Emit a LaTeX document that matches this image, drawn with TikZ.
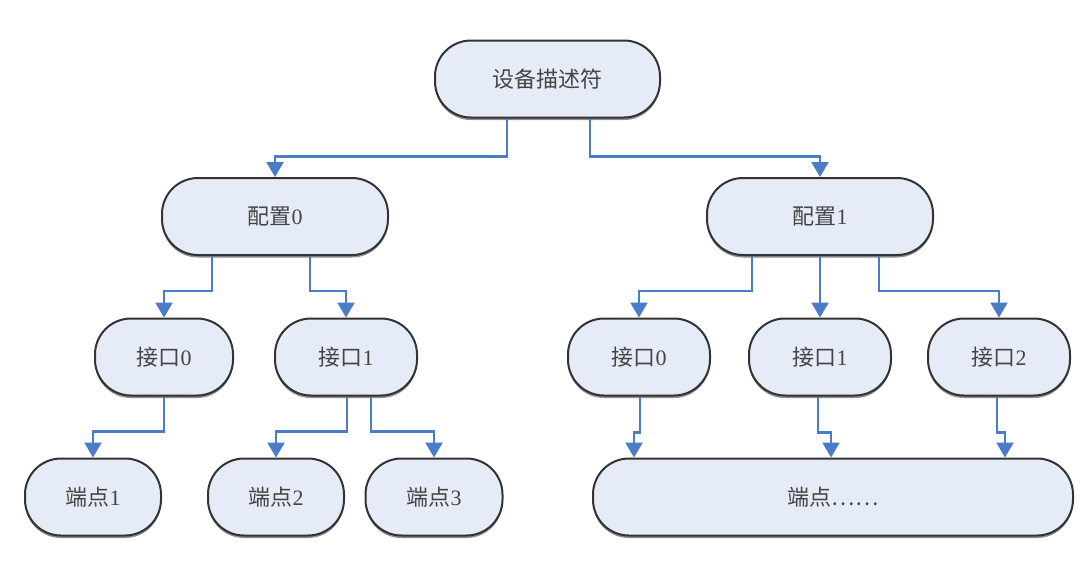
\documentclass[tikz,border=0pt]{standalone}
\usepackage{fontspec}
\setmainfont{Liberation Serif}
\newfontfamily\cjk{Noto Sans CJK SC}
\usetikzlibrary{arrows.meta,calc,shadows}
\definecolor{boxfill}{HTML}{E6ECF7}
\definecolor{boxline}{HTML}{333333}
\definecolor{conncol}{HTML}{4A7CC8}
\definecolor{txtcol}{HTML}{444444}
\tikzset{
  pill/.style={draw=boxline, line width=2pt, fill=boxfill, rounded corners=36pt,
    minimum height=77pt, inner sep=0pt, text=txtcol, font=\fontsize{22}{26}\selectfont,
    drop shadow={shadow xshift=0pt, shadow yshift=-2.5pt, opacity=0.45, fill=black}},
  conn/.style={draw=conncol, line width=2.4pt, -{Triangle[width=17pt,length=15pt]}},
}
\begin{document}
\begin{tikzpicture}[x=1pt,y=-1pt]
\useasboundingbox (0,0) rectangle (1090,563);
\fill[white] (0,0) rectangle (1090,563);
% nodes
\node[pill, minimum width=225pt] (dev) at (547.5,79) {\cjk 设备描述符};
\node[pill, minimum width=226pt] (c0) at (275,216.5) {{\cjk 配置}0};
\node[pill, minimum width=226pt] (c1) at (820,216.5) {{\cjk 配置}1};
\node[pill, minimum width=138pt] (i00) at (164,357) {{\cjk 接口}0};
\node[pill, minimum width=142pt] (i01) at (346,357) {{\cjk 接口}1};
\node[pill, minimum width=142pt] (i10) at (639,357) {{\cjk 接口}0};
\node[pill, minimum width=142pt] (i11) at (820,357) {{\cjk 接口}1};
\node[pill, minimum width=142pt] (i12) at (999,357) {{\cjk 接口}2};
\node[pill, minimum width=136pt] (e1) at (93,497) {{\cjk 端点}1};
\node[pill, minimum width=136pt] (e2) at (276,497) {{\cjk 端点}2};
\node[pill, minimum width=137pt] (e3) at (434,497) {{\cjk 端点}3};
\node[pill, minimum width=480pt] (eall) at (833,497) {\cjk 端点……};
% connectors level 1
\draw[conn] ($(dev.south)+(-40.5,0)$) -- ++(0,38) -| (c0.north);
\draw[conn] ($(dev.south)+(42.5,0)$) -- ++(0,38) -| (c1.north);
% level 2
\draw[conn] ($(c0.south)+(-63,0)$) -- ++(0,35) -| (i00.north);
\draw[conn] ($(c0.south)+(35,0)$) -- ++(0,35) -| (i01.north);
\draw[conn] ($(c1.south)+(-68,0)$) -- ++(0,35) -| (i10.north);
\draw[conn] (c1.south) -- (i11.north);
\draw[conn] ($(c1.south)+(59,0)$) -- ++(0,35) -| (i12.north);
% level 3
\draw[conn] (i00.south) -- ++(0,35) -| (e1.north);
\draw[conn] ($(i01.south)+(1,0)$) -- ++(0,35) -| (e2.north);
\draw[conn] ($(i01.south)+(25,0)$) -- ++(0,35) -| (e3.north);
\draw[conn] ($(i10.south)+(1,0)$) -- ++(0,36) -| ($(eall.north west)+(42,0)$);
\draw[conn] ($(i11.south)+(-2,0)$) -- ++(0,36) -| ($(eall.north west)+(239,0)$);
\draw[conn] ($(i12.south)+(-2,0)$) -- ++(0,36) -| ($(eall.north west)+(413,0)$);
\end{tikzpicture}
\end{document}
